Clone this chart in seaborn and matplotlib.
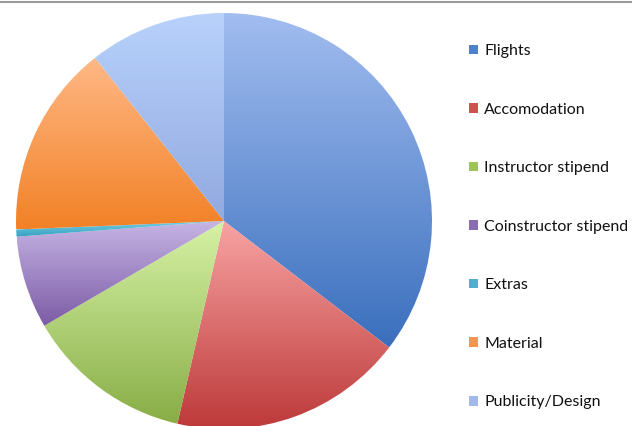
"""
Budget breakdown pie chart, Excel-style gradient wedges.
"""

import numpy as np
import matplotlib
matplotlib.use("Agg")
import matplotlib.pyplot as plt
from matplotlib.colors import LinearSegmentedColormap
from matplotlib.patches import Patch
from matplotlib.lines import Line2D
import seaborn as sns

categories = ["Flights", "Accomodation", "Instructor stipend",
              "Coinstructor stipend", "Extras", "Material", "Publicity/Design"]
shares = [35.4, 18.2, 13.0, 7.2, 0.55, 15.0, 10.65]

# light (top of wedge) -> dark (bottom of wedge)
top_colors = ["#a2bdf0", "#f8a3a3", "#d6f2a6", "#c6b4e4", "#74cfe5", "#ffb886", "#b8d2fc"]
bottom_colors = ["#3a6fbd", "#bd3939", "#88ad46", "#7b5ba6", "#379fc0", "#f28126", "#91a9df"]
legend_colors = ["#4f81c8", "#d0504e", "#9cc45a", "#8a6cb2", "#4bb0ca", "#f7944a", "#a0b8ec"]

sns.set_theme(style="white")
plt.rcParams['font.family'] = ['Lato', 'DejaVu Sans']

W, H = 632, 426
fig = plt.figure(figsize=(W / 100, H / 100), dpi=100)
ax = fig.add_axes([0, 0, 1, 1])

wedges, _ = ax.pie(shares, startangle=90, counterclock=False,
                   center=(224, H - 221), radius=208,
                   wedgeprops=dict(linewidth=0))

# gradient fill clipped to every wedge
grad = np.linspace(0, 1, 256).reshape(-1, 1)
for w, c_top, c_bot in zip(wedges, top_colors, bottom_colors):
    w.set_facecolor("none")
    ext = w.get_path().get_extents()
    cmap = LinearSegmentedColormap.from_list("g", [c_bot, c_top])
    im = ax.imshow(grad, cmap=cmap, origin="lower", aspect="auto",
                   extent=[ext.x0, ext.x1, ext.y0, ext.y1], interpolation="bicubic")
    im.set_clip_path(w)

ax.set_xlim(0, W)
ax.set_ylim(0, H)
ax.set_aspect("equal")
ax.axis("off")

handles = [Patch(facecolor=c, edgecolor="none") for c in legend_colors]
leg = ax.legend(handles, categories, loc="upper left",
                bbox_to_anchor=(469 / W, 1 - 44 / H), frameon=False,
                fontsize=11.5, labelspacing=2.79, handlelength=0.55,
                handleheight=0.55, handletextpad=0.4, borderpad=0, borderaxespad=0)
for t in leg.get_texts():
    t.set_color("#111111")

# thin grey border line on top
fig.add_artist(Line2D([0, 1], [1 - 1.5 / H, 1 - 1.5 / H], color="#9a9a9a", lw=1.5))

plt.savefig("out.png", dpi=100)
plt.close()
